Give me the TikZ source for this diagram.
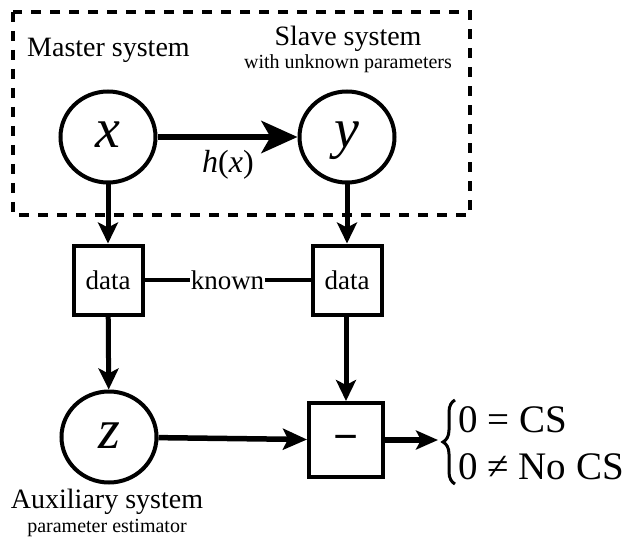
\documentclass[tikz,border=0pt]{standalone}
\usepackage{fontspec}
\setmainfont{Liberation Serif}
\usetikzlibrary{arrows.meta,decorations.pathreplacing,shapes.geometric}
\begin{document}
\begin{tikzpicture}[x=1pt,y=-1pt,
  sysnode/.style={ellipse,draw,line width=4pt,minimum width=95pt,minimum height=91pt,inner sep=0pt,
    font=\fontsize{56}{60}\selectfont\itshape,text height=22pt,text depth=0pt},
  databox/.style={rectangle,draw,line width=4pt,minimum width=69pt,minimum height=69pt,inner sep=0pt,
    font=\fontsize{27}{30}\selectfont},
  bigarrow/.style={line width=6.5pt,-{Stealth[length=36pt,width=32pt,inset=9pt]}},
  arrowline/.style={line width=5pt,-{Stealth[length=21pt,width=20pt,inset=5pt]}},
  lbl/.style={font=\fontsize{28}{32}\selectfont,inner sep=0pt,anchor=base},
  small/.style={font=\fontsize{20}{24}\selectfont,inner sep=0pt,anchor=base},
  result/.style={font=\fontsize{39}{44}\selectfont,inner sep=0pt,anchor=base west}]
\useasboundingbox (0,0) rectangle (626,540);
% dashed frame
\draw[line width=3.5pt,dash pattern=on 10pt off 9pt] (13,12) rectangle (470,215);
% labels
\node[lbl,anchor=base west] (mastertxt) at (27,57) {Master system};
\node[lbl] (slavetxt) at (348,46) {Slave system};
\node[small] (slavesub) at (348,69) {with unknown parameters};
% systems
\node[sysnode] (x) at (108,137) {x};
\node[sysnode] (y) at (347,137) {y};
\node[sysnode] (z) at (109,437) {z};
\node[lbl,font=\fontsize{32}{36}\selectfont] (hx) at (228,173) {\textit{h}(\textit{x})};
% data boxes
\node[databox] (d1) at (108,280) {data};
\node[databox] (d2) at (347,280) {data};
\node[databox,minimum width=74pt,minimum height=74pt,font=\fontsize{44}{46}\selectfont\bfseries,text height=22pt,text depth=0pt] (minus) at (346,440) {−};
% connectors
\draw[bigarrow] (x) -- (y);
\draw[arrowline] (x) -- (d1);
\draw[arrowline] (y) -- (d2);
\draw[arrowline] (d1) -- (z);
\draw[arrowline] (d2.south -| minus) -- (minus);
\draw[line width=4pt] (d1) -- node[fill=white,inner sep=0.5pt,font=\fontsize{27}{30}\selectfont] (known) {known} (d2);
\draw[line width=5.5pt,-{Stealth[length=24pt,width=21pt,inset=5pt]}] (z) -- (minus);
\coordinate (bracetip) at (438,440);
\draw[line width=6.5pt,-{Stealth[length=22pt,width=19pt,inset=5pt]}] (minus) -- (bracetip);
% brace
\coordinate (bb) at (455,484);
\coordinate (bt) at (455,400);
\draw[line width=3pt,decorate,decoration={brace,amplitude=12pt}] (bb) -- (bt);
\node[result] (cs) at (458,432) {0 = CS};
\node[result] (nocs) at (458,479) {0 ≠ No CS};
% aux labels
\node[lbl] (auxtxt) at (107,508) {Auxiliary system};
\node[small] (auxsub) at (107,532) {parameter estimator};
\end{tikzpicture}
\end{document}
